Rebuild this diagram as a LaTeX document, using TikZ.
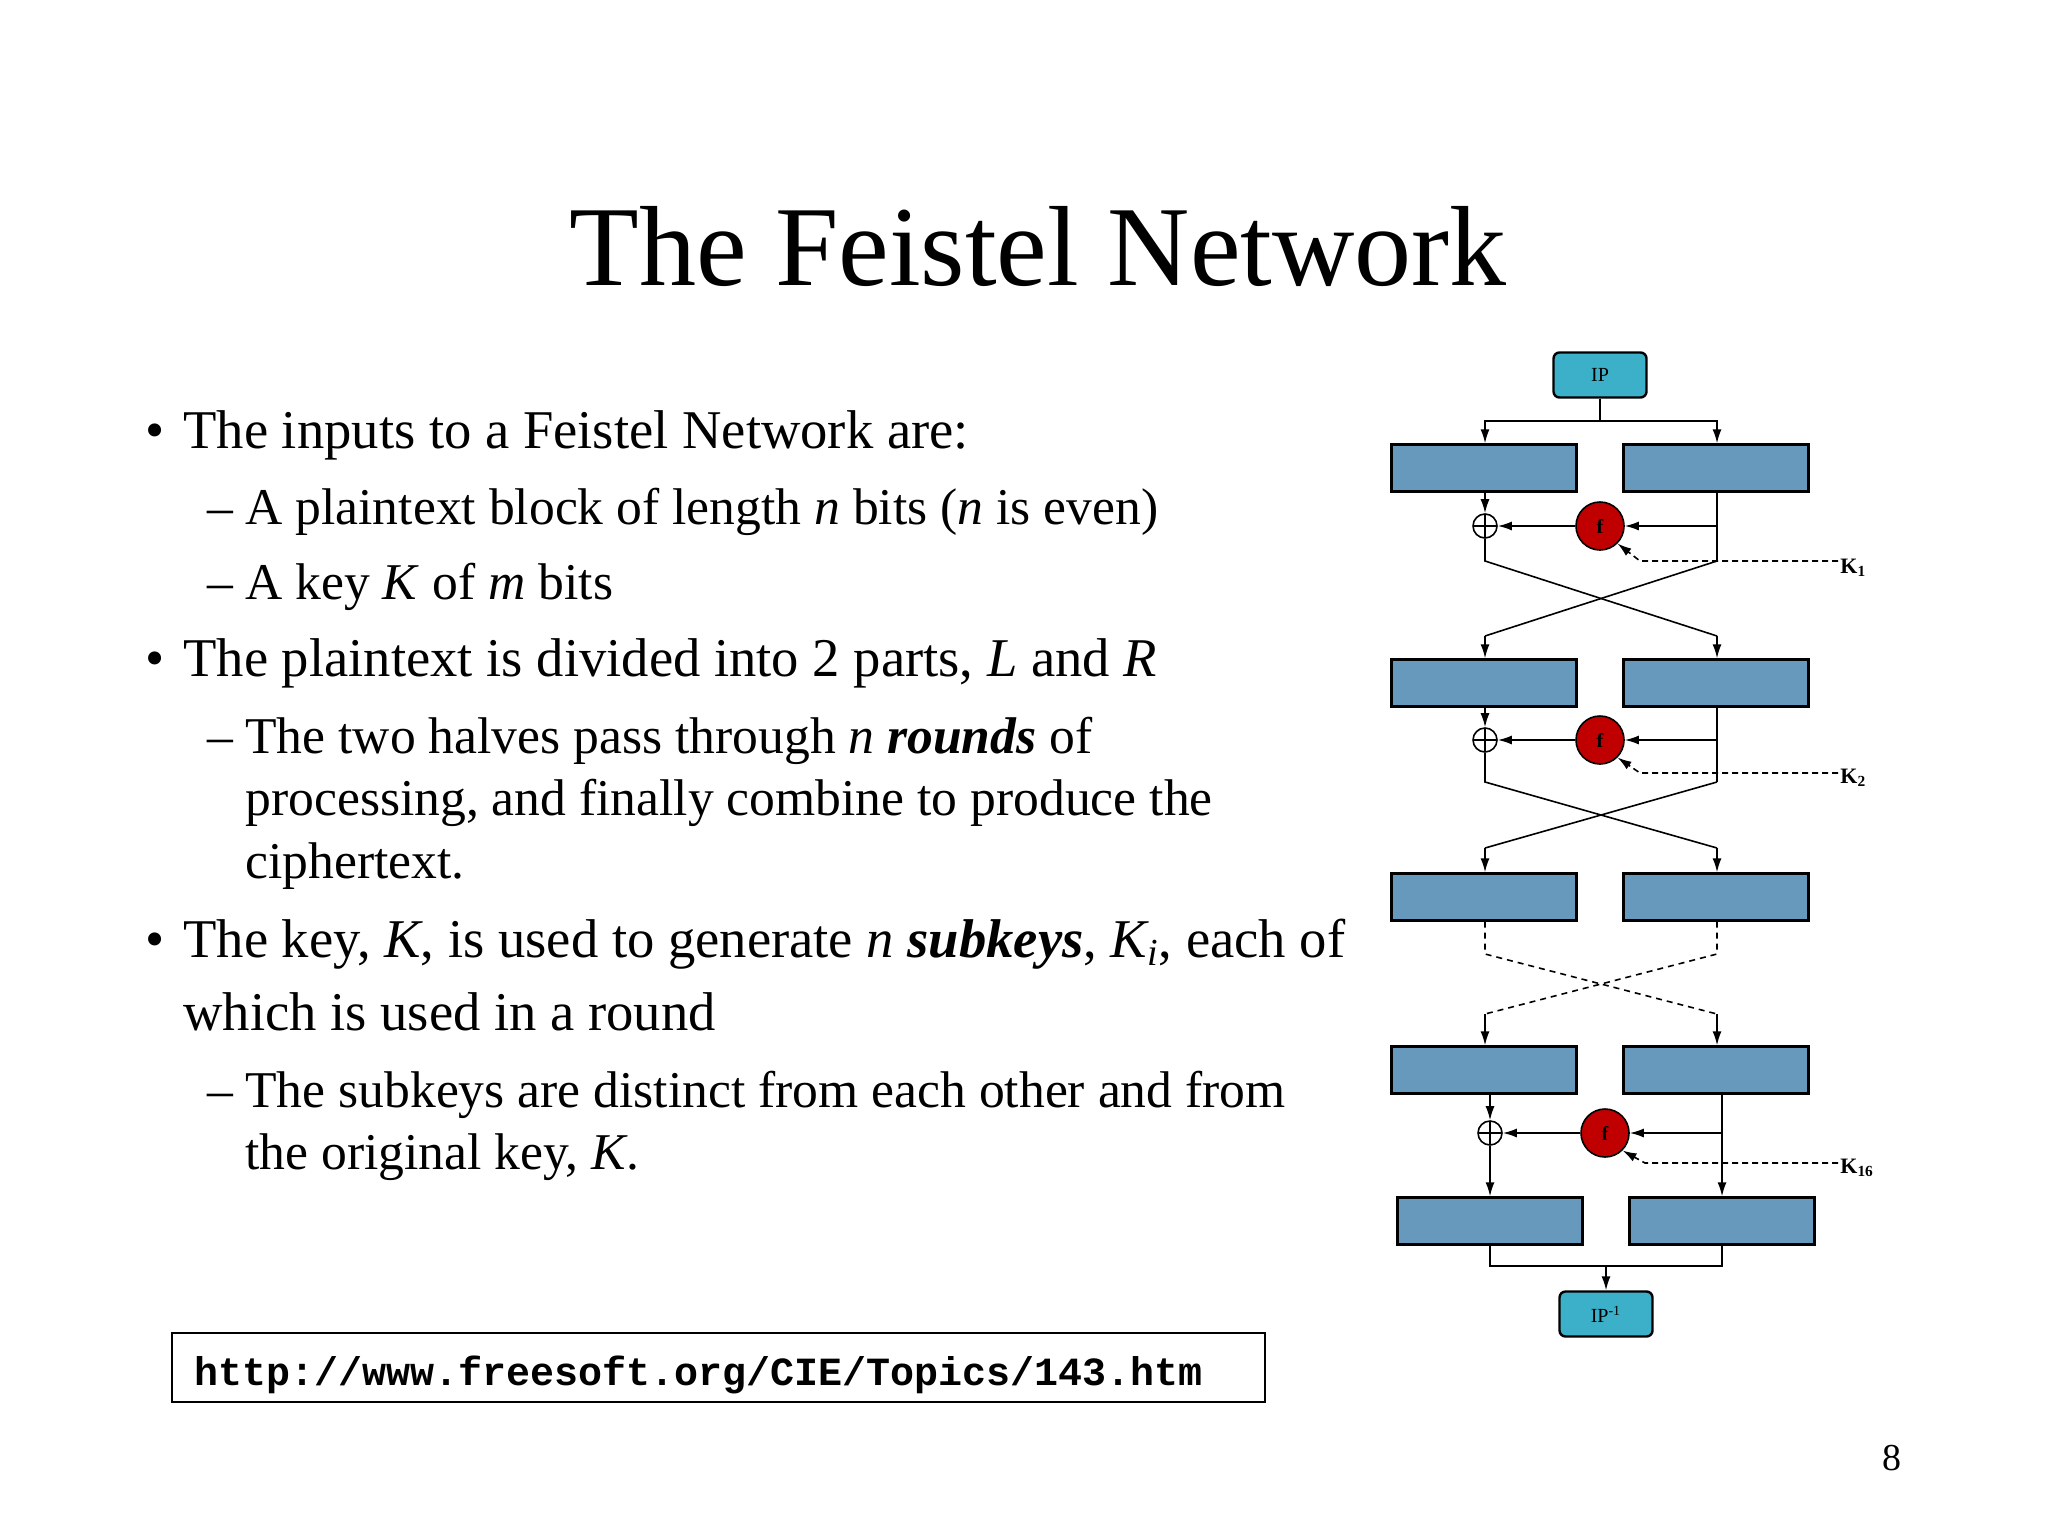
\documentclass[tikz,border=0pt]{standalone}
\usepackage{fontspec}
\setmainfont{Liberation Serif}
\newfontfamily\urlfont{Liberation Mono}
\usetikzlibrary{arrows.meta}
\definecolor{blkblue}{HTML}{6699BB}
\definecolor{ipcyan}{HTML}{3BB0C8}
\definecolor{fred}{HTML}{C00000}
\begin{document}
\begin{tikzpicture}[x=0.5pt,y=-0.5pt,
  blk/.style={draw,line width=1.2pt,fill=blkblue,minimum width=92.5pt,minimum height=23.5pt,inner sep=0pt},
  ip/.style={draw,line width=1.2pt,fill=ipcyan,rounded corners=3pt,minimum width=46.5pt,minimum height=22.5pt,inner sep=0pt,font=\fontsize{10}{10}\selectfont},
  fn/.style={circle,draw,line width=0.8pt,fill=fred,minimum size=24pt,inner sep=0pt,font=\fontsize{10}{10}\selectfont\bfseries},
  xr/.style={circle,draw,line width=0.8pt,minimum size=12pt,inner sep=0pt,path picture={\draw[line width=0.8pt] (path picture bounding box.north)--(path picture bounding box.south) (path picture bounding box.west)--(path picture bounding box.east);}},
  ln/.style={line width=0.8pt},
  ar/.style={line width=0.8pt,-{Latex[length=7pt,width=4.5pt]}},
  kd/.style={line width=0.8pt,dash pattern=on 3pt off 2pt,-{Latex[length=7pt,width=4.5pt]}},
  kl/.style={font=\fontsize{11}{11}\selectfont\bfseries,anchor=west,inner sep=1pt},
  main/.style={anchor=base west,inner sep=0pt,font=\fontsize{27.3}{32}\selectfont},
  sub/.style={anchor=base west,inner sep=0pt,font=\fontsize{25.8}{30}\selectfont},
]
\path[use as bounding box,fill=white] (0,0) rectangle (2048,1536);
% title
\node[anchor=base,inner sep=0pt,font=\fontsize{57}{63}\selectfont] (title) at (1038,285) {The Feistel Network};
% bullets
\node[main] (b1d) at (145,448) {•};
\node[main] (b1) at (183,448) {The inputs to a Feistel Network are:};
\node[sub] (s1d) at (207,524) {–};
\node[sub] (s1) at (245,524) {A plaintext block of length \textit{n} bits (\textit{n} is even)};
\node[sub] (s2d) at (207,599) {–};
\node[sub] (s2) at (245,599) {A key \textit{K} of \textit{m} bits};
\node[main] (b2d) at (145,676) {•};
\node[main] (b2) at (183,676) {The plaintext is divided into 2 parts, \textit{L} and \textit{R}};
\node[sub] (s3d) at (207,753) {–};
\node[sub] (s3) at (245,753) {The two halves pass through \textit{n} \textbf{\textit{rounds}} of};
\node[sub] (s3b) at (245,815) {processing, and finally combine to produce the};
\node[sub] (s3c) at (245,878) {ciphertext.};
\node[main] (b3d) at (145,957) {•};
\node[main] (b3) at (183,957) {The key, \textit{K}, is used to generate \textit{n} \textbf{\textit{subkeys}}, \textit{K\textsubscript{i}}, each of};
\node[main] (b3b) at (183,1030) {which is used in a round};
\node[sub] (s4d) at (207,1107) {–};
\node[sub] (s4) at (245,1107) {The subkeys are distinct from each other and from};
\node[sub] (s4b) at (245,1169) {the original key, \textit{K}.};
% url
\draw[line width=1pt] (172,1333) rectangle (1265,1402);
\node[anchor=base west,inner sep=0pt,font=\urlfont\bfseries\fontsize{20}{22}\selectfont] (url) at (194,1385) {http://www.freesoft.org/CIE/Topics/143.htm};
\node[anchor=base,inner sep=0pt,font=\fontsize{19}{22}\selectfont] (pg) at (1892,1470) {8};
% diagram
\node[ip] (IP) at (1600,375) {IP};
\node[blk] (L1) at (1484,468) {}; \node[blk] (R1) at (1716,468) {};
\node[blk] (L2) at (1484,683) {}; \node[blk] (R2) at (1716,683) {};
\node[blk] (L3) at (1484,897) {}; \node[blk] (R3) at (1716,897) {};
\node[blk] (L4) at (1484,1070) {}; \node[blk] (R4) at (1716,1070) {};
\node[blk] (L5) at (1490,1221) {}; \node[blk] (R5) at (1722,1221) {};
\node[ip] (IPi) at (1606,1314) {IP\textsuperscript{-1}};
\node[xr] (x1) at (1485,526) {}; \node[fn] (f1) at (1600,526) {f};
\node[xr] (x2) at (1485,740) {}; \node[fn] (f2) at (1600,740) {f};
\node[xr] (x3) at (1490,1133) {}; \node[fn] (f3) at (1605,1133) {f};
\node[kl] (K1) at (1838,568) {K\textsubscript{1}};
\node[kl] (K2) at (1838,778) {K\textsubscript{2}};
\node[kl] (K3) at (1838,1168) {K\textsubscript{16}};
% IP split
\coordinate (s0) at (1600,421); \coordinate (s0l) at (1485,421); \coordinate (s0r) at (1717,421);
\draw[ln] (IP.south) -- (s0);
\draw[ar] (s0) -- (s0l) -- (s0l|-L1.north);
\draw[ar] (s0) -- (s0r) -- (s0r|-R1.north);
% round 1
\coordinate (e1) at (1717,526); \coordinate (a1) at (1485,561); \coordinate (b1) at (1717,561);
\coordinate (c1) at (1485,636); \coordinate (d1) at (1717,636); \coordinate (k1) at (1640,561);
\draw[ar] (L1.south-|x1) -- (x1.north);
\draw[ln] (R1.south-|b1) -- (b1);
\draw[ar] (e1) -- (f1.east);
\draw[ar] (f1.west) -- (x1.east);
\draw[kd] (K1.west|-k1) -- (k1) -- (f1.-45);
\draw[ln] (x1.south) -- (a1) -- (d1);
\draw[ar] (d1) -- (d1|-R2.north);
\draw[ln] (b1) -- (c1);
\draw[ar] (c1) -- (c1|-L2.north);
% round 2
\coordinate (e2) at (1717,740); \coordinate (a2) at (1485,782); \coordinate (b2) at (1717,782);
\coordinate (c2) at (1485,848); \coordinate (d2) at (1717,848); \coordinate (k2) at (1640,773);
\draw[ar] (L2.south-|x2) -- (x2.north);
\draw[ln] (R2.south-|b2) -- (b2);
\draw[ar] (e2) -- (f2.east);
\draw[ar] (f2.west) -- (x2.east);
\draw[kd] (K2.west|-k2) -- (k2) -- (f2.-45);
\draw[ln] (x2.south) -- (a2) -- (d2);
\draw[ar] (d2) -- (d2|-R3.north);
\draw[ln] (b2) -- (c2);
\draw[ar] (c2) -- (c2|-L3.north);
% dotted rounds
\coordinate (a3) at (1485,954); \coordinate (b3) at (1717,954);
\coordinate (c3) at (1485,1014); \coordinate (d3) at (1717,1014);
\draw[ln,dash pattern=on 3pt off 2.5pt] (L3.south-|a3) -- (a3) -- (d3);
\draw[ln,dash pattern=on 3pt off 2.5pt] (R3.south-|b3) -- (b3) -- (c3);
\draw[ar] (d3) -- (d3|-R4.north);
\draw[ar] (c3) -- (c3|-L4.north);
% round 16
\coordinate (e3) at (1722,1133); \coordinate (r3) at (1722,1094); \coordinate (k3) at (1645,1163);
\draw[ar] (L4.south-|x3) -- (x3.north);
\draw[ar] (x3.south) -- (x3|-L5.north);
\draw[ar] (r3) -- (r3|-R5.north);
\draw[ar] (e3) -- (f3.east);
\draw[ar] (f3.west) -- (x3.east);
\draw[kd] (K3.west|-k3) -- (k3) -- (f3.-45);
% join
\coordinate (j1) at (1490,1266); \coordinate (j2) at (1722,1266); \coordinate (j0) at (1606,1266);
\draw[ln] (L5.south-|j1) -- (j1) -- (j2) -- (R5.south-|j2);
\draw[ar] (j0) -- (IPi.north);
\end{tikzpicture}
\end{document}
